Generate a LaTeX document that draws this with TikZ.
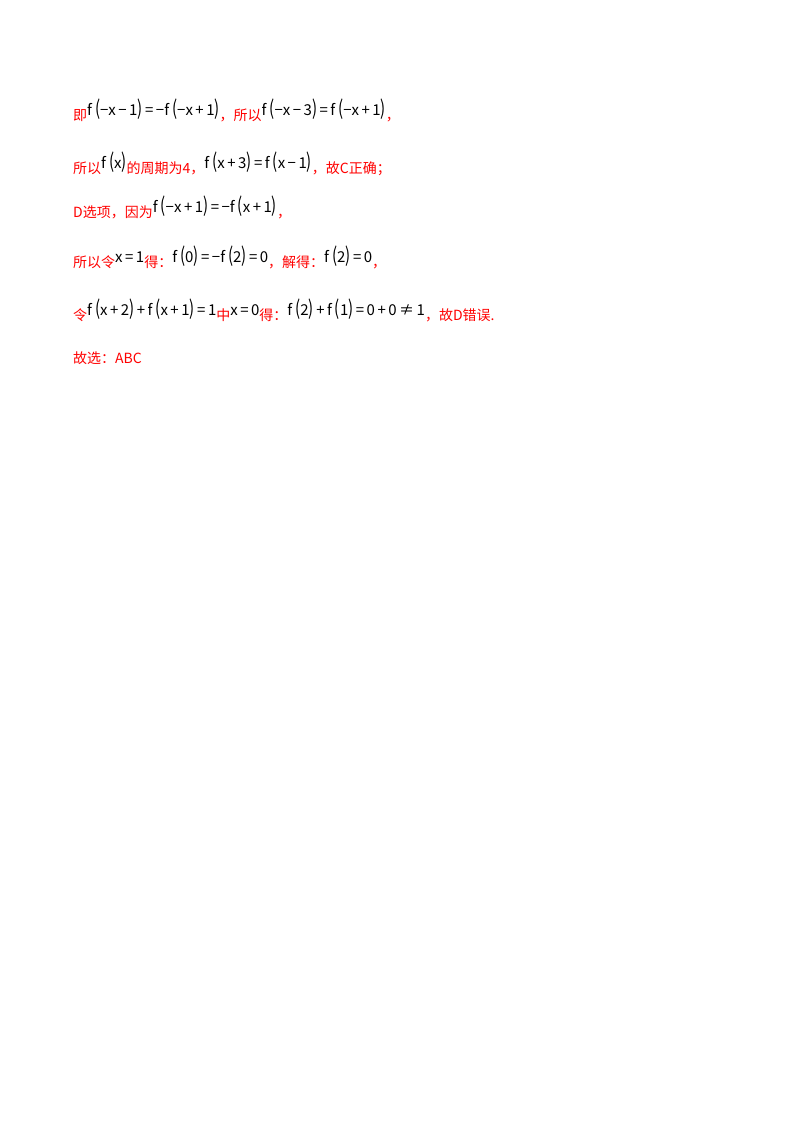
\documentclass[tikz,border=0pt]{standalone}
\usepackage{fontspec}
\setmainfont{Liberation Serif}
\newfontfamily\cjk{Noto Sans CJK SC}
\definecolor{rd}{RGB}{255,0,0}
\newcommand{\mm}[1]{\raisebox{5bp}{\color{black}\fontsize{15bp}{16bp}\selectfont #1}}
\newcommand{\fx}{\textit{f}\,}
\newcommand{\xx}{\textit{x}}
\newcommand{\lp}{\scalebox{1}[1.35]{(}}
\newcommand{\rp}{\scalebox{1}[1.35]{)}}
\newcommand{\ms}{\,−\,}
\newcommand{\ps}{\,+\,}
\newcommand{\eq}{\,=\,}
\begin{document}
\begin{tikzpicture}[x=1bp,y=1bp,
  ln/.style={anchor=base west,inner sep=0,text=rd,font=\cjk\fontsize{14bp}{16bp}\selectfont}]
\useasboundingbox (0,0) rectangle (800,-1132);
\node[ln] (l1) at (73,-120) {即\mm{\fx\lp−\xx\ms1\rp\eq−\fx\lp−\xx\ps1\rp}，所以\mm{\fx\lp−\xx\ms3\rp\eq\fx\lp−\xx\ps1\rp}，};
\node[ln] (l2) at (73,-173) {所以\mm{\fx\lp\xx\rp}的周期为4，\mm{\fx\lp\xx\ps3\rp\eq\fx\lp\xx\ms1\rp}，故C正确；};
\node[ln] (l3) at (73,-217) {D选项，因为\mm{\fx\lp−\xx\ps1\rp\eq−\fx\lp\xx\ps1\rp}，};
\node[ln] (l4) at (73,-267) {所以令\mm{\xx\eq1}得：\mm{\fx\lp0\rp\eq−\fx\lp2\rp\eq0}，解得：\mm{\fx\lp2\rp\eq0}，};
\node[ln] (l5) at (73,-320) {令\mm{\fx\lp\xx\ps2\rp\ps\fx\lp\xx\ps1\rp\eq1}中\mm{\xx\eq0}得：\mm{\fx\lp2\rp\ps\fx\lp1\rp\eq0\ps0\,≠\,1}，故D错误.};
\node[ln] (l6) at (73,-363) {故选：ABC};
\end{tikzpicture}
\end{document}
